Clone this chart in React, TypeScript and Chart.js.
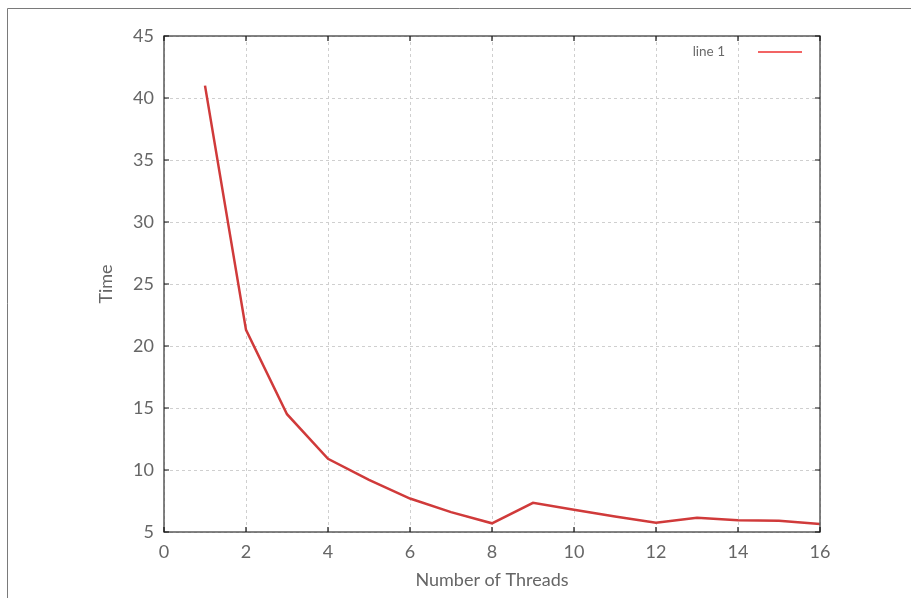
import React, { useEffect, useRef } from "react";
import { Chart, registerables } from "chart.js";

Chart.register(...registerables);

const threads = [1, 2, 3, 4, 5, 6, 7, 8, 9, 10, 11, 12, 13, 14, 15, 16];
const times = [41, 21.3, 14.5, 10.9, 9.2, 7.7, 6.6, 5.7, 7.35, 6.8, 6.25, 5.75, 6.15, 5.95, 5.9, 5.65];
const seriesLabel = "line 1";
const xTitle = "Number of Threads";
const yTitle = "Time";

const FONT = "Lato, 'Open Sans', sans-serif";

const decorPlugin = {
  id: "decor",
  beforeDraw(chart: any) {
    const ctx = chart.ctx;
    ctx.save();
    ctx.fillStyle = "#ffffff";
    ctx.fillRect(0, 0, chart.width, chart.height);
    ctx.strokeStyle = "#7a7a7a";
    ctx.lineWidth = 1;
    ctx.beginPath();
    ctx.moveTo(7.5, chart.height);
    ctx.lineTo(7.5, 8.5);
    ctx.lineTo(chart.width, 8.5);
    ctx.stroke();
    ctx.restore();
  },
  afterDraw(chart: any) {
    const ctx = chart.ctx;
    const { left, right, top, bottom } = chart.chartArea;
    const xs = chart.scales.x;
    const ys = chart.scales.y;
    ctx.save();
    ctx.strokeStyle = "#5a5a5a";
    ctx.lineWidth = 1.5;
    ctx.strokeRect(left, top, right - left, bottom - top);
    ctx.strokeStyle = "#111";
    ctx.lineWidth = 1.2;
    ctx.beginPath();
    xs.ticks.forEach((t: any) => {
      const px = xs.getPixelForValue(t.value);
      ctx.moveTo(px, bottom);
      ctx.lineTo(px, bottom - 5);
      ctx.moveTo(px, top);
      ctx.lineTo(px, top + 5);
    });
    ys.ticks.forEach((t: any) => {
      const py = ys.getPixelForValue(t.value);
      ctx.moveTo(left, py);
      ctx.lineTo(left + 5, py);
      ctx.moveTo(right, py);
      ctx.lineTo(right - 5, py);
    });
    ctx.stroke();
    // legend
    const ly = top + 16;
    ctx.fillStyle = "#6a6a6a";
    ctx.font = `13.5px ${FONT}`;
    ctx.textAlign = "right";
    ctx.textBaseline = "middle";
    ctx.fillText(chart.data.datasets[0].label, right - 95, ly);
    ctx.strokeStyle = "#ee3030";
    ctx.lineWidth = 1.3;
    ctx.beginPath();
    ctx.moveTo(right - 62, ly);
    ctx.lineTo(right - 18, ly);
    ctx.stroke();
    ctx.restore();
  },
};

export default function App() {
  const ref = useRef<HTMLCanvasElement>(null);
  useEffect(() => {
    if (!ref.current) return;
    const chart = new Chart(ref.current, {
      type: "line",
      data: {
        datasets: [
          {
            label: seriesLabel,
            data: threads.map((t, i) => ({ x: t, y: times[i] })),
            borderColor: "#d03a3a",
            borderWidth: 2.5,
            pointRadius: 0,
            tension: 0,
            fill: false,
          },
        ],
      },
      options: {
        responsive: false,
        animation: false,
        devicePixelRatio: 1,
        layout: { padding: { top: 36, right: 91, left: 0, bottom: 0 } },
        plugins: { legend: { display: false }, tooltip: { enabled: false } },
        scales: {
          x: {
            type: "linear",
            min: 0,
            max: 16,
            afterFit: (s: any) => {
              s.height = 66;
            },
            ticks: {
              stepSize: 2,
              padding: 9,
              color: "#666",
              font: { family: FONT, size: 18 },
            },
            grid: {
              color: "#cfcfcf",
              drawTicks: false,
              lineWidth: 1,
            },
            border: { display: false, dash: [3, 3] },
            title: {
              display: true,
              text: xTitle,
              color: "#666",
              font: { family: FONT, size: 18 },
              padding: { top: 0, bottom: 7 },
            },
          },
          y: {
            min: 5,
            max: 45,
            afterFit: (s: any) => {
              s.width = 164;
            },
            ticks: {
              stepSize: 5,
              padding: 10,
              color: "#666",
              font: { family: FONT, size: 18 },
            },
            grid: {
              color: "#cfcfcf",
              drawTicks: false,
              lineWidth: 1,
            },
            border: { display: false, dash: [3, 3] },
            title: {
              display: true,
              text: yTitle,
              color: "#666",
              font: { family: FONT, size: 18 },
              padding: { top: 95, bottom: 0 },
            },
          },
        },
      },
      plugins: [decorPlugin],
    });
    return () => chart.destroy();
  }, []);
  return (
    <div style={{ position: "fixed", left: 0, top: 0, width: 911, height: 598 }}>
      <canvas ref={ref} width={911} height={598} style={{ display: "block" }} />
    </div>
  );
}
